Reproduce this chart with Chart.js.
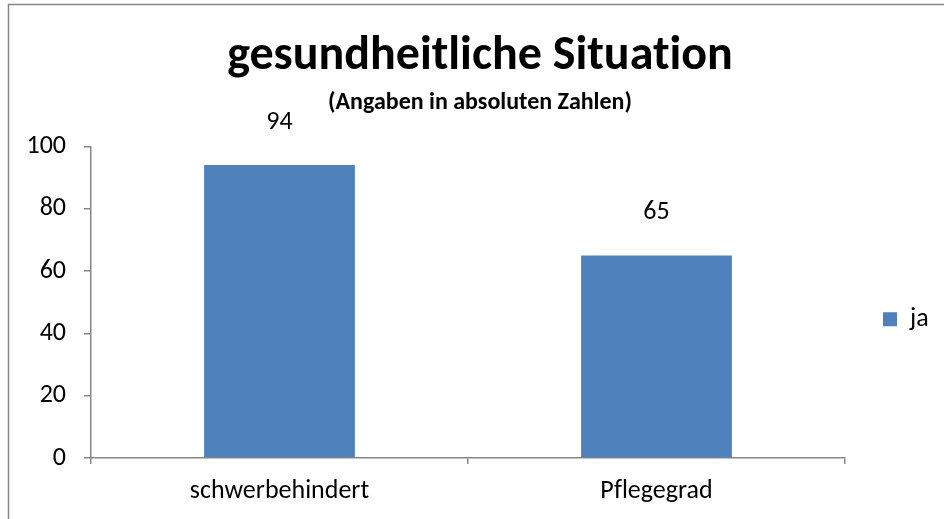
<!DOCTYPE html>
<html>
<head>
<meta charset="utf-8">
<script src="https://cdn.jsdelivr.net/npm/chart.js@4"></script>
<style>
  html, body { margin: 0; padding: 0; background: #fff; }
  #wrap { width: 944px; height: 519px; position: relative; }
</style>
</head>
<body>
<div id="wrap"><canvas id="c" width="944" height="519"></canvas></div>
<script>
const categories = ["schwerbehindert", "Pflegegrad"];
const seriesName = "ja";
const values = [94, 65];
const yTicks = [0, 20, 40, 60, 80, 100];
const titleText = "gesundheitliche Situation";
const subtitleText = "(Angaben in absoluten Zahlen)";

const FONT = "Carlito, Calibri, Lato, 'Open Sans', sans-serif";
const AXIS = "#868686";
const BAR = "#4F81BD";
const LEGEND_WIDTH = 99;
const LEGEND_SHIFT = 17;

const framePlugin = {
  id: 'frame',
  afterInit(chart) {
    const lg = chart.legend;
    if (lg && !lg._patched) {
      const origFit = lg.fit.bind(lg);
      lg.fit = function () { origFit(); this.width = LEGEND_WIDTH; };
      lg._patched = true;
    }
  },
  afterLayout(chart) {
    const lg = chart.legend;
    if (lg) { lg.top += LEGEND_SHIFT; lg.bottom += LEGEND_SHIFT; }
  },
  beforeDraw(chart) {
    const ctx = chart.ctx;
    try { ctx.textRendering = 'optimizeSpeed'; } catch (e) {}
    ctx.save();
    ctx.fillStyle = '#fff';
    ctx.fillRect(0, 0, chart.width, chart.height);
    ctx.strokeStyle = AXIS;
    ctx.lineWidth = 1.5;
    ctx.beginPath();
    ctx.moveTo(8.5, chart.height);
    ctx.lineTo(8.5, 4.5);
    ctx.lineTo(chart.width, 4.5);
    ctx.stroke();
    ctx.restore();
  }
};

const valueLabels = {
  id: 'valueLabels',
  afterDatasetsDraw(chart) {
    const ctx = chart.ctx;
    ctx.save();
    ctx.font = "26px " + FONT;
    ctx.fillStyle = "#000";
    ctx.textAlign = "center";
    ctx.textBaseline = "alphabetic";
    chart.getDatasetMeta(0).data.forEach((bar, i) => {
      ctx.fillText(String(values[i]), bar.x, bar.y - 36);
    });
    ctx.restore();
  }
};

new Chart(document.getElementById('c'), {
  type: 'bar',
  data: {
    labels: categories,
    datasets: [{
      label: seriesName,
      data: values,
      backgroundColor: BAR,
      borderWidth: 0,
      categoryPercentage: 1.0,
      barPercentage: 0.4
    }]
  },
  options: {
    responsive: false,
    animation: false,
    devicePixelRatio: 1,
    layout: { padding: { left: 16, right: 0, top: 0, bottom: 0 } },
    plugins: {
      title: {
        display: true,
        text: titleText,
        color: '#000',
        font: { family: FONT, size: 48, weight: 'bold' },
        padding: { top: 28, bottom: 0 }
      },
      subtitle: {
        display: true,
        text: subtitleText,
        color: '#000',
        font: { family: FONT, size: 24, weight: 'bold' },
        padding: { top: 3, bottom: 29 }
      },
      legend: {
        display: true,
        position: 'right',
        fullSize: false,
        labels: {
          color: '#000',
          font: { family: FONT, size: 26 },
          boxWidth: 14,
          boxHeight: 14,
          padding: 38
        }
      },
      tooltip: { enabled: false }
    },
    scales: {
      x: {
        offset: true,
        grid: { display: true, drawOnChartArea: false, drawTicks: true, tickLength: 6, color: AXIS, lineWidth: 1.5, offset: true },
        border: { display: true, color: AXIS, width: 1.5 },
        ticks: { color: '#000', font: { family: FONT, size: 26 }, padding: 12 },
        afterFit(s) { s.height = 61; }
      },
      y: {
        min: 0,
        max: 100,
        afterBuildTicks(s) { s.ticks = yTicks.map(v => ({ value: v })); },
        grid: { display: true, drawOnChartArea: false, drawTicks: true, tickLength: 7, color: AXIS, lineWidth: 1.5 },
        border: { display: true, color: AXIS, width: 1.5 },
        ticks: { color: '#000', font: { family: FONT, size: 26 }, padding: 18 },
        afterFit(s) { s.width = 91 - 16; }
      }
    }
  },
  plugins: [framePlugin, valueLabels]
});
</script>
</body>
</html>
